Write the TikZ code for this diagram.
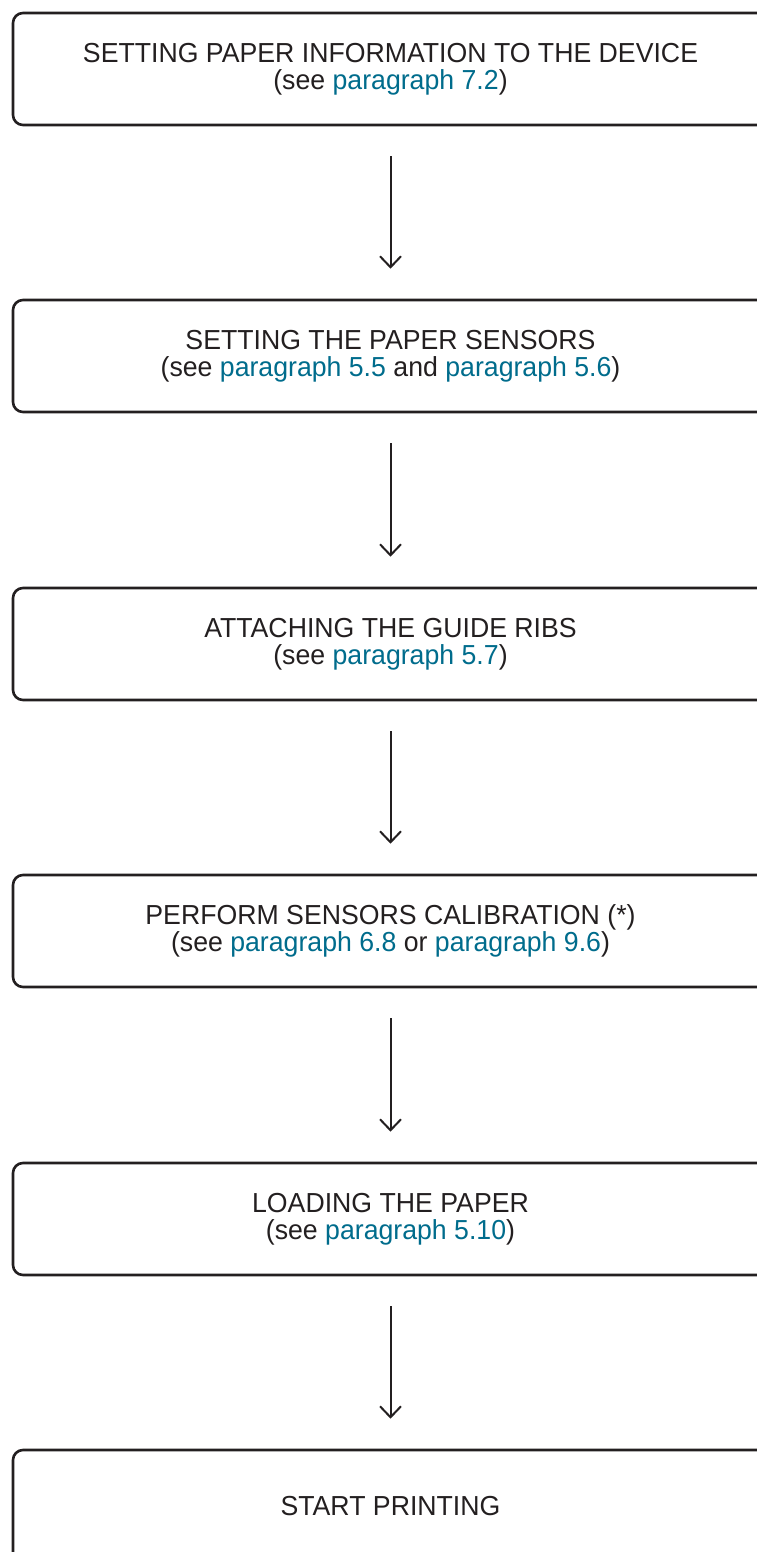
\documentclass[tikz,border=0pt]{standalone}
\usepackage{fontspec}
\setmainfont[FakeStretch=0.97]{Liberation Sans}
\usetikzlibrary{arrows.meta}
\definecolor{ink}{RGB}{35,31,32}
\definecolor{lnk}{RGB}{0,108,140}
\newcommand{\lk}[1]{\textcolor{lnk}{#1}}
\tikzset{
  stepbox/.style={draw=ink, line width=2.6pt, rounded corners=10pt, minimum width=755pt, minimum height=112pt,
    align=center, text=ink, font=\fontsize{27.5pt}{27pt}\selectfont, inner sep=0pt},
  arr/.style={draw=ink, line width=2pt, -{Straight Barb[length=11pt,width=21pt,line width=2pt]},
    shorten <=30pt, shorten >=30pt}
}
\begin{document}
\begin{tikzpicture}[x=1pt,y=-1pt]
\useasboundingbox (0,0) rectangle (757,1552);
\clip (0,0) rectangle (757,1552);
\node[stepbox] (b1) at (390.5,69) {SETTING PAPER INFORMATION TO THE DEVICE\\(see \lk{paragraph 7.2})};
\node[stepbox] (b2) at (390.5,356) {SETTING THE PAPER SENSORS\\(see \lk{paragraph 5.5} and \lk{paragraph 5.6})};
\node[stepbox] (b3) at (390.5,644) {ATTACHING THE GUIDE RIBS\\(see \lk{paragraph 5.7})};
\node[stepbox] (b4) at (390.5,931) {PERFORM SENSORS CALIBRATION (*)\\(see \lk{paragraph 6.8} or \lk{paragraph 9.6})};
\node[stepbox] (b5) at (390.5,1219) {LOADING THE PAPER\\(see \lk{paragraph 5.10})};
\node[stepbox] (b6) at (390.5,1506) {START PRINTING};
\draw[arr] (b1) -- (b2);
\draw[arr] (b2) -- (b3);
\draw[arr] (b3) -- (b4);
\draw[arr] (b4) -- (b5);
\draw[arr] (b5) -- (b6);
\end{tikzpicture}
\end{document}
